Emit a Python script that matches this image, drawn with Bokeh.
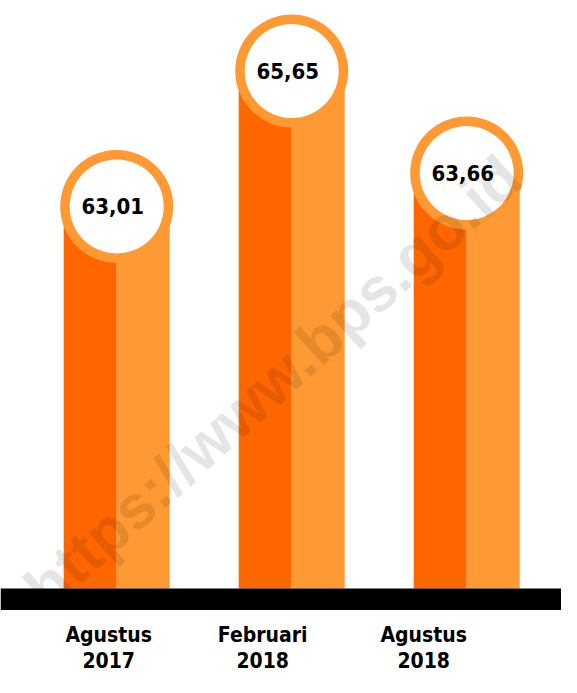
import math
from bokeh.plotting import figure
from bokeh.models import ColumnDataSource, Range1d, BoxAnnotation, Label
from bokeh.transform import dodge
from bokeh.core.properties import value
from bokeh.embed import file_html
from bokeh.resources import INLINE

# ---- data ----
periods = ["Agustus", "Februari", "Agustus"]
years = ["2017", "2018", "2018"]
rates = [63.01, 65.65, 63.66]
rate_labels = [f"{v:.2f}".replace(".", ",") for v in rates]

# ---- styling ----
DARK = "#FF6600"
LIGHT = "#FF9933"
BASE = 55.56          # value at the black baseline
W, H = 561, 677
PX_X = 175.0          # px per category step
PX_Y = 51.3           # px per value unit
X0 = -116.2 / PX_X
Y0 = BASE - 88.9 / PX_Y
HALF = 53.0 / PX_X
LABEL_SHIFT = [-8, -29, -43]
COND = "DejaVu Sans Condensed"

idx = list(range(len(rates)))
src = ColumnDataSource(dict(
    x=idx, top=rates, lab=rate_labels, per=periods, yr=years,
    base=[BASE] * len(rates), shift=LABEL_SHIFT,
))

p = figure(width=W, height=H, output_backend="svg", toolbar_location=None,
           x_range=Range1d(X0, X0 + W / PX_X), y_range=Range1d(Y0, Y0 + H / PX_Y),
           min_border=0, background_fill_color="white", border_fill_color="white")
p.axis.visible = False
p.grid.visible = False
p.outline_line_color = None

p.vbar(x=dodge("x", -HALF / 2, range=p.x_range), top="top", bottom="base",
       width=HALF, source=src, fill_color=DARK, line_color=None)
p.vbar(x=dodge("x", HALF / 2, range=p.x_range), top="top", bottom="base",
       width=HALF, source=src, fill_color=LIGHT, line_color=None)

p.scatter(x="x", y="top", size=113, marker="circle", source=src,
          fill_color=LIGHT, line_color=None)
p.scatter(x="x", y="top", size=94, marker="circle", source=src,
          fill_color="white", line_color=None)

p.text(x="x", y="top", text="lab", source=src, x_offset=-4, text_align="center",
       text_baseline="middle", text_font=value(COND), text_font_style="bold",
       text_font_size="22px", text_color="black")

p.add_layout(BoxAnnotation(bottom=BASE - 21.5 / PX_Y, top=BASE, fill_color="black",
                           fill_alpha=1, line_color=None))

p.text(x="x", y="base", text="per", source=src, x_offset="shift", y_offset=46,
       text_align="center", text_baseline="alphabetic", text_font=value(COND),
       text_font_style="bold", text_font_size="21px", text_color="black")
p.text(x="x", y="base", text="yr", source=src, x_offset="shift", y_offset=71,
       text_align="center", text_baseline="alphabetic", text_font=value(COND),
       text_font_style="bold", text_font_size="21px", text_color="black")

p.add_layout(Label(x=272, y=295, x_units="screen", y_units="screen",
                   text="https://www.bps.go.id", angle=math.radians(42),
                   text_align="center", text_baseline="middle",
                   text_font="Liberation Sans", text_font_style="bold",
                   text_font_size="62px", text_color="black", text_alpha=0.1))

open("out.html", "w").write(file_html(p, INLINE))
